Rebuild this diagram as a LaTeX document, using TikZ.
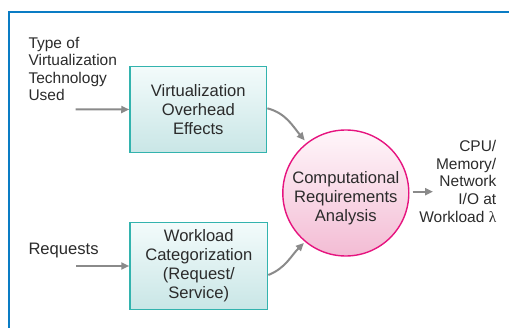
\documentclass[tikz,border=0pt]{standalone}
\usepackage{fontspec}
\setmainfont{Liberation Sans}
\newfontfamily\lamfont{Liberation Serif}
\usetikzlibrary{arrows.meta}
\definecolor{framecol}{HTML}{0A7CC4}
\definecolor{boxedge}{HTML}{33B3AE}
\definecolor{boxtop}{HTML}{F3FBFB}
\definecolor{boxbot}{HTML}{C9E6E6}
\definecolor{circedge}{HTML}{E6147F}
\definecolor{circtop}{HTML}{FFF6FA}
\definecolor{circbot}{HTML}{F3BCD4}
\definecolor{txt}{HTML}{2B2B2B}
\definecolor{arr}{HTML}{8A8A8A}
\tikzset{
  lbl/.style={font=\fontsize{15.5}{17.5}\selectfont, text=txt, inner sep=0pt},
  procbox/.style={draw=boxedge, line width=1.4pt, top color=boxtop, bottom color=boxbot,
    align=center, font=\fontsize{16.6}{19}\selectfont, text=txt, inner sep=0pt},
  hub/.style={circle, draw=circedge, line width=1.4pt, top color=circtop, bottom color=circbot,
    minimum size=126pt, inner sep=0pt},
  flow/.style={draw=arr, line width=2pt, -{Triangle[length=8pt,width=7pt]}},
}
\begin{document}
\begin{tikzpicture}[x=1pt,y=1pt]
\useasboundingbox (0,0) rectangle (509,327);
% outer frame (open to the right and bottom)
\draw[framecol, line width=2.2pt] (9.3,-2) -- (9.3,314.7) -- (511,314.7);

% process boxes
\node[procbox, minimum width=136.7pt, minimum height=85.6pt] (overhead) at (198.3,217.5)
  {Virtualization\\Overhead\\Effects};
\node[procbox, minimum width=137.7pt, minimum height=86.6pt] (workload) at (198.8,61)
  {Workload\\Categorization\\(Request/\\Service)};

% analysis circle
\node[hub] (comp) at (345.8,134) {};
\node[lbl, align=center, font=\fontsize{16.6}{19}\selectfont] (comptext) at (345.8,129)
  {Computational\\Requirements\\Analysis};

% input labels
\node[lbl, align=left, anchor=north west] (virttype) at (28.3,290)
  {Type of\\Virtualization\\Technology\\Used};
\node[lbl, anchor=base west, font=\fontsize{16.6}{19}\selectfont] (requests) at (28.3,72) {Requests};

% output label
\node[lbl, align=right, anchor=north east, font=\fontsize{15.5}{17.75}\selectfont] (result) at (496.5,187)
  {CPU/\\Memory/\\Network\\I/O at\\Workload {\lamfont λ}};

% connector end points
\coordinate (in1) at (75.7,217.6);
\coordinate (in2) at (76,61);
\coordinate (out1) at (433,135.3);

% connectors
\draw[flow] (in1) -- (overhead.west);
\draw[flow] (in2) -- (workload.west);
\draw[flow] ([yshift=1.2pt]overhead.east) to[out=-15,in=130] ([shift={(128:3pt)}]comp.128);
\draw[flow] ([yshift=-9pt]workload.east) to[out=22,in=225] ([shift={(230:1.5pt)}]comp.230);
\draw[flow] ([xshift=3pt,yshift=1.3pt]comp.east) -- (out1);
\end{tikzpicture}
\end{document}
